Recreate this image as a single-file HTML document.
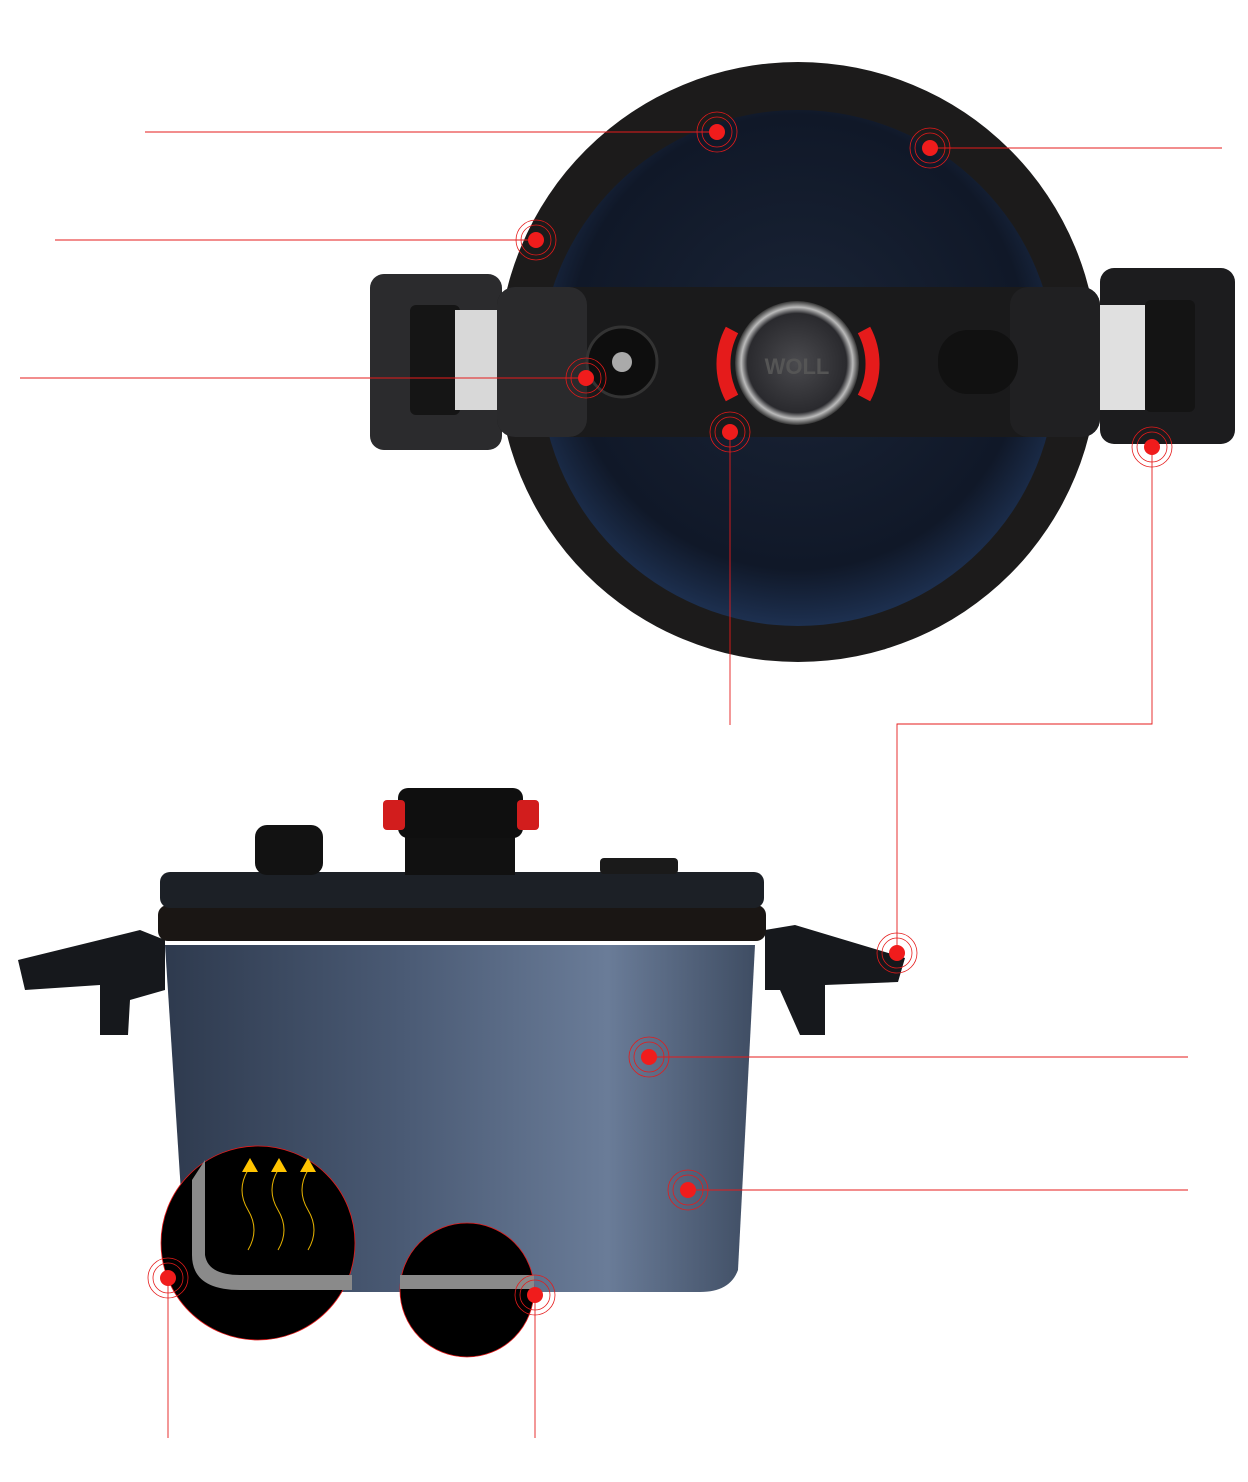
<!DOCTYPE html>
<html><head><meta charset="utf-8"><style>
html,body{margin:0;padding:0;background:#fff;}
svg{display:block}
</style></head><body>
<svg width="1248" height="1482" viewBox="0 0 1248 1482" xmlns="http://www.w3.org/2000/svg">
<defs>
<radialGradient id="lidIn" cx="50%" cy="45%" r="55%">
<stop offset="0" stop-color="#1a2436"/><stop offset="0.8" stop-color="#101828"/><stop offset="1" stop-color="#1d3050"/>
</radialGradient>
<linearGradient id="body" x1="0" y1="0" x2="1" y2="0">
<stop offset="0" stop-color="#2e3a4e"/><stop offset="0.4" stop-color="#4a5a74"/><stop offset="0.75" stop-color="#6a7c98"/><stop offset="1" stop-color="#3f4d63"/>
</linearGradient>
<radialGradient id="knob" cx="50%" cy="50%" r="50%">
<stop offset="0" stop-color="#4a4a4e"/><stop offset="0.8" stop-color="#2a2a2e"/><stop offset="0.9" stop-color="#bbb"/><stop offset="1" stop-color="#333"/>
</radialGradient>
<g id="dot">
<circle r="20" fill="none" stroke="#e51b1b" stroke-width="0.8"/>
<circle r="15" fill="none" stroke="#e51b1b" stroke-width="0.8"/>
<circle r="8" fill="#f01c1c"/>
</g>
</defs>

<!-- TOP VIEW -->
<rect x="370" y="274" width="132" height="176" rx="14" fill="#2b2b2d"/>
<rect x="410" y="305" width="50" height="110" rx="6" fill="#151515"/>
<rect x="455" y="310" width="45" height="100" fill="#d8d8d8"/>
<rect x="1100" y="268" width="135" height="176" rx="14" fill="#1c1c1e"/>
<rect x="1100" y="305" width="45" height="105" fill="#e0e0e0"/>
<rect x="1145" y="300" width="50" height="112" rx="6" fill="#141414"/>
<circle cx="798" cy="362" r="300" fill="#1c1b1b"/>
<circle cx="798" cy="368" r="258" fill="url(#lidIn)"/>
<rect x="497" y="287" width="603" height="150" rx="18" fill="#1a1a1b"/>
<rect x="497" y="287" width="90" height="150" rx="18" fill="#2a2a2c"/>
<rect x="1010" y="287" width="90" height="150" rx="18" fill="#202022"/>
<circle cx="622" cy="362" r="35" fill="#0e0e0e" stroke="#333" stroke-width="3"/>
<circle cx="622" cy="362" r="10" fill="#aaa"/>
<rect x="938" y="330" width="80" height="64" rx="30" fill="#111"/>
<path d="M732 330 A72 72 0 0 0 732 398" stroke="#e51b1b" stroke-width="14" fill="none"/>
<path d="M864 330 A72 72 0 0 1 864 398" stroke="#e51b1b" stroke-width="14" fill="none"/>
<circle cx="797" cy="363" r="62" fill="url(#knob)"/>
<text x="797" y="374" text-anchor="middle" font-family="Liberation Sans, sans-serif" font-weight="bold" font-size="22" fill="#555">WOLL</text>

<!-- BOTTOM VIEW -->
<path d="M18 960 L140 930 L165 940 L165 990 L130 1000 L128 1035 L100 1035 L100 985 L25 990 Z" fill="#16181c"/>
<path d="M765 930 L795 925 L905 958 L898 982 L825 985 L825 1035 L800 1035 L780 990 L765 990 Z" fill="#16181c"/>
<path d="M165 945 L755 945 L738 1270 Q730 1292 700 1292 L205 1292 Q190 1292 186 1270 Z" fill="url(#body)"/>
<rect x="158" y="905" width="608" height="36" rx="10" fill="#1a1614"/>
<rect x="160" y="872" width="604" height="36" rx="10" fill="#1c2026"/>
<rect x="255" y="825" width="68" height="50" rx="12" fill="#121212"/>
<rect x="600" y="858" width="78" height="16" rx="4" fill="#1a1a1a"/>
<rect x="405" y="835" width="110" height="40" fill="#111"/>
<rect x="398" y="788" width="125" height="50" rx="10" fill="#0f0f0f"/>
<rect x="383" y="800" width="22" height="30" rx="4" fill="#d21d1d"/>
<rect x="517" y="800" width="22" height="30" rx="4" fill="#d21d1d"/>
<circle cx="258" cy="1243" r="97" fill="#000" stroke="#e51b1b" stroke-width="0.8"/>
<path d="M205 1160 L205 1255 Q208 1275 240 1275 L352 1275 L352 1290 L240 1290 Q192 1290 192 1255 L192 1180 Z" fill="#8a8a8a"/>
<path d="M248 1170 q-12 20 0 40 q12 20 0 40 M278 1170 q-12 20 0 40 q12 20 0 40 M308 1170 q-12 20 0 40 q12 20 0 40" stroke="#e8b400" stroke-width="1" fill="none"/>
<path d="M242 1172 L250 1158 L258 1172 Z M271 1172 L279 1158 L287 1172 Z M300 1172 L308 1158 L316 1172 Z" fill="#ffc400"/>
<circle cx="467" cy="1290" r="67" fill="#000" stroke="#e51b1b" stroke-width="0.8"/>
<rect x="400" y="1275" width="134" height="14" fill="#8a8a8a"/>

<!-- connectors -->
<g stroke="#e51b1b" stroke-width="0.9" fill="none">
<line x1="145" y1="132" x2="717" y2="132"/>
<line x1="930" y1="148" x2="1222" y2="148"/>
<line x1="55" y1="240" x2="536" y2="240"/>
<line x1="20" y1="378" x2="586" y2="378"/>
<line x1="730" y1="432" x2="730" y2="725"/>
<polyline points="1152,447 1152,724 897,724 897,953"/>
<line x1="649" y1="1057" x2="1188" y2="1057"/>
<line x1="688" y1="1190" x2="1188" y2="1190"/>
<line x1="168" y1="1278" x2="168" y2="1438"/>
<line x1="535" y1="1295" x2="535" y2="1438"/>
</g>
<use href="#dot" x="717" y="132"/>
<use href="#dot" x="930" y="148"/>
<use href="#dot" x="536" y="240"/>
<use href="#dot" x="586" y="378"/>
<use href="#dot" x="730" y="432"/>
<use href="#dot" x="1152" y="447"/>
<use href="#dot" x="897" y="953"/>
<use href="#dot" x="649" y="1057"/>
<use href="#dot" x="688" y="1190"/>
<use href="#dot" x="168" y="1278"/>
<use href="#dot" x="535" y="1295"/>
</svg>
</body></html>
